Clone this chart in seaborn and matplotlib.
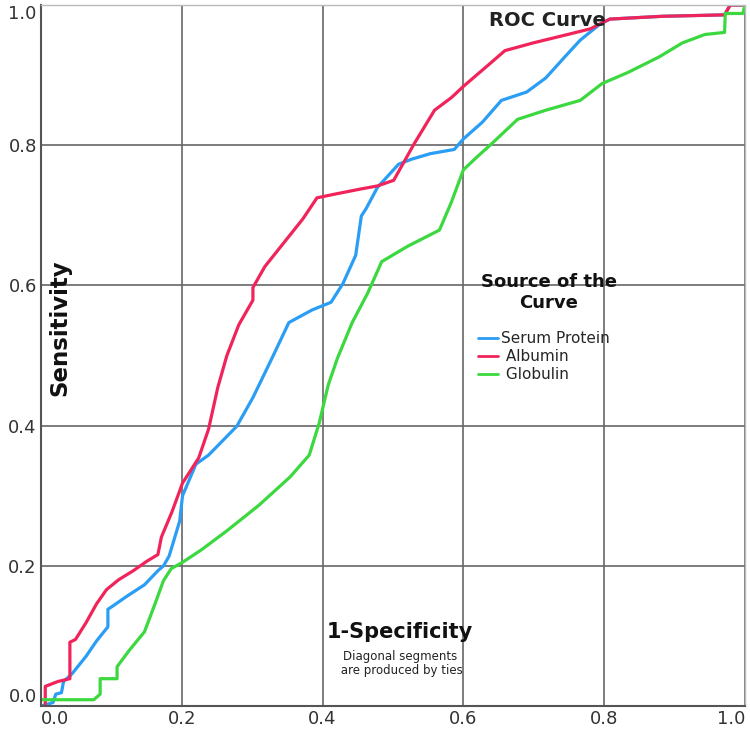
import matplotlib.pyplot as plt
import seaborn as sns
import pandas as pd

# ROC points (1 - specificity, sensitivity)
serum_fpr = [0.0, 0.017, 0.021, 0.029, 0.032, 0.044, 0.064, 0.079, 0.095, 0.095, 0.101,
             0.121, 0.147, 0.166, 0.174, 0.182, 0.197, 0.201, 0.220, 0.238, 0.278, 0.301,
             0.328, 0.352, 0.385, 0.412, 0.429, 0.447, 0.455, 0.462, 0.478, 0.508, 0.526,
             0.553, 0.587, 0.600, 0.627, 0.654, 0.690, 0.717, 0.744, 0.766, 0.793, 0.808,
             0.883, 0.971, 0.979, 1.0]
serum_tpr = [0.0, 0.005, 0.017, 0.019, 0.035, 0.046, 0.071, 0.093, 0.113, 0.138, 0.142,
             0.156, 0.173, 0.193, 0.200, 0.214, 0.264, 0.300, 0.345, 0.358, 0.399, 0.440,
             0.496, 0.547, 0.565, 0.576, 0.603, 0.643, 0.699, 0.710, 0.740, 0.773, 0.780,
             0.788, 0.794, 0.809, 0.833, 0.864, 0.876, 0.896, 0.926, 0.950, 0.972, 0.980,
             0.984, 0.986, 1.0, 1.0]

albumin_fpr = [0.006, 0.006, 0.024, 0.041, 0.041, 0.049, 0.064, 0.079, 0.093, 0.110, 0.131,
               0.151, 0.166, 0.171, 0.186, 0.201, 0.224, 0.238, 0.251, 0.264, 0.281, 0.301,
               0.301, 0.318, 0.345, 0.372, 0.392, 0.416, 0.451, 0.478, 0.501, 0.530, 0.559,
               0.583, 0.600, 0.636, 0.659, 0.699, 0.748, 0.780, 0.808, 0.883, 0.971, 0.979,
               1.0]
albumin_tpr = [0.0, 0.028, 0.035, 0.039, 0.091, 0.095, 0.119, 0.146, 0.166, 0.180, 0.193,
               0.207, 0.216, 0.241, 0.277, 0.318, 0.354, 0.395, 0.454, 0.500, 0.544, 0.579,
               0.597, 0.627, 0.661, 0.695, 0.725, 0.730, 0.737, 0.742, 0.750, 0.802, 0.850,
               0.868, 0.884, 0.915, 0.935, 0.946, 0.958, 0.966, 0.980, 0.984, 0.986, 1.0,
               1.0]

globulin_fpr = [0.0, 0.075, 0.084, 0.084, 0.108, 0.108, 0.125, 0.147, 0.162, 0.174, 0.185,
                0.192, 0.201, 0.228, 0.264, 0.309, 0.354, 0.381, 0.395, 0.408, 0.421, 0.442,
                0.464, 0.484, 0.521, 0.566, 0.583, 0.600, 0.619, 0.640, 0.677, 0.717, 0.766,
                0.797, 0.834, 0.878, 0.911, 0.943, 0.971, 0.972, 0.997, 1.0]
globulin_tpr = [0.009, 0.009, 0.017, 0.039, 0.039, 0.056, 0.079, 0.106, 0.146, 0.179, 0.196,
                0.200, 0.205, 0.223, 0.250, 0.286, 0.327, 0.358, 0.403, 0.458, 0.496, 0.547,
                0.589, 0.634, 0.656, 0.679, 0.719, 0.765, 0.783, 0.802, 0.837, 0.850, 0.864,
                0.888, 0.904, 0.926, 0.946, 0.958, 0.961, 0.988, 0.988, 1.0]

sources = ['Serum Protein', 'Albumin', 'Globulin']
colors = ['#2A9DF4', '#F0245A', '#3BD83F']
ticks = [0.0, 0.2, 0.4, 0.6, 0.8, 1.0]

frames = []
for name, fx, ty in zip(sources, [serum_fpr, albumin_fpr, globulin_fpr],
                        [serum_tpr, albumin_tpr, globulin_tpr]):
    frames.append(pd.DataFrame({'fpr': fx, 'tpr': ty, 'src': name}))
df = pd.concat(frames, ignore_index=True)

sns.set_style('white')
plt.rcParams['font.family'] = ['DejaVu Sans']

fig = plt.figure(figsize=(7.5, 7.34), dpi=100)
ax = fig.add_axes([0.0547, 0.0381, 0.9386, 0.955])

sns.lineplot(data=df, x='fpr', y='tpr', hue='src', hue_order=sources,
             palette=dict(zip(sources, colors)), sort=False, estimator=None,
             linewidth=2.3, ax=ax, legend=False)

ax.set_xlim(0, 1.0)
ax.set_ylim(0, 1.0)
ax.set_xticks(ticks)
ax.set_yticks(ticks)
ax.set_xticklabels([f'{t:.1f}' for t in ticks], fontsize=13, color='#333333')
ax.set_yticklabels([f'{t:.1f}' for t in ticks], fontsize=13, color='#333333')
ax.tick_params(length=0, pad=3)
xl = ax.get_xticklabels()
xl[0].set_horizontalalignment('left')
xl[-1].set_horizontalalignment('right')
yl = ax.get_yticklabels()
yl[0].set_verticalalignment('bottom')
yl[-1].set_verticalalignment('top')
ax.grid(True, color='#666666', linewidth=1.2)
ax.set_axisbelow(True)
ax.set_xlabel('')
ax.set_ylabel('')
for side in ['left', 'bottom']:
    ax.spines[side].set_color('#555555')
    ax.spines[side].set_linewidth(1.5)
for side in ['top', 'right']:
    ax.spines[side].set_color('#bbbbbb')
    ax.spines[side].set_linewidth(1.0)

ax.text(0.72, 0.978, 'ROC Curve', transform=ax.transAxes, ha='center', va='center',
        fontsize=14, fontweight='bold', color='#222222')
ax.text(0.027, 0.54, 'Sensitivity', transform=ax.transAxes, ha='center', va='center',
        rotation=90, fontsize=16.5, fontweight='bold', color='#111111')
ax.text(0.51, 0.106, '1-Specificity', transform=ax.transAxes, ha='center', va='center',
        fontsize=15, fontweight='bold', color='#111111')
ax.text(0.51, 0.061, 'Diagonal segments\n are produced by ties', transform=ax.transAxes,
        ha='center', va='center', fontsize=8.5, color='#222222', linespacing=1.1)

# legend title drawn as its own text, entries below it
ax.text(0.7216, 0.59, 'Source of the\nCurve', transform=ax.transAxes, ha='center',
        va='center', fontsize=13, fontweight='bold', color='#111111', linespacing=1.15)
handles = [plt.Line2D([0], [0], color=c, linewidth=2) for c in colors]
ax.legend(handles, ['Serum Protein', ' Albumin', ' Globulin'], loc='upper left',
          bbox_to_anchor=(0.621, 0.535), frameon=False, fontsize=11,
          handlelength=1.3, handletextpad=0.2, labelspacing=0.2,
          borderpad=0, borderaxespad=0)

fig.savefig('out.png', dpi=100)
